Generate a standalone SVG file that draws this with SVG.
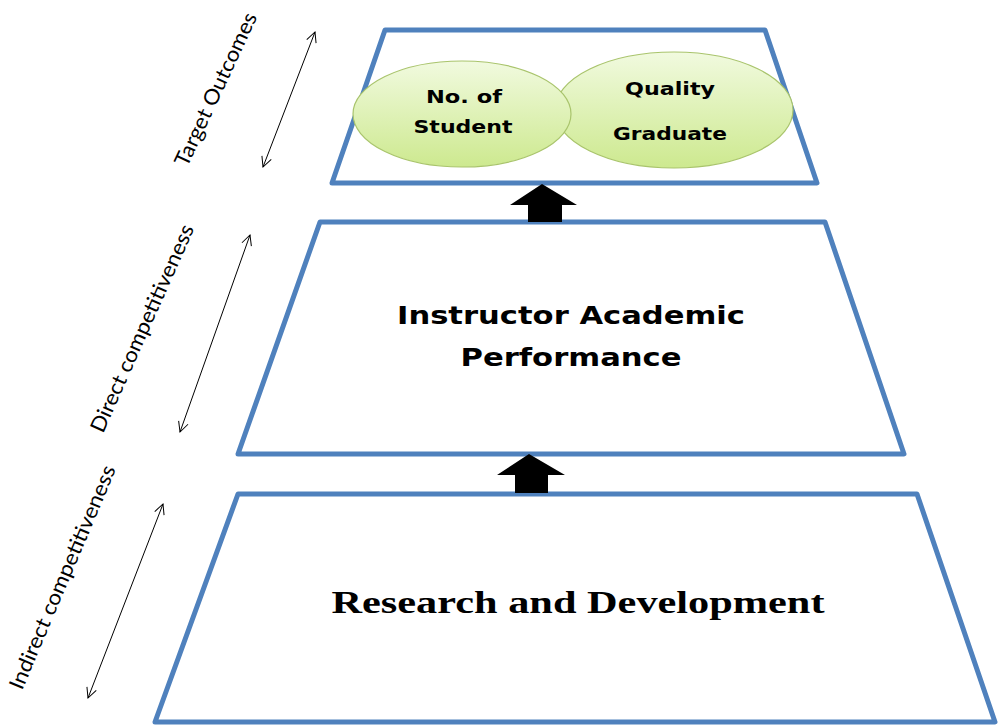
<svg xmlns="http://www.w3.org/2000/svg" width="999" height="726" viewBox="0 0 999 726">
<defs>
<linearGradient id="g" x1="0" y1="0" x2="0" y2="1">
<stop offset="0" stop-color="#f1fadf"/>
<stop offset="1" stop-color="#cde98f"/>
</linearGradient>
<marker id="ah" viewBox="0 0 12 12" refX="11" refY="6" markerWidth="12" markerHeight="12" markerUnits="userSpaceOnUse" orient="auto-start-reverse">
<path d="M1,1 L11,6 L1,11" fill="none" stroke="#000" stroke-width="1"/>
</marker>
</defs>
<style>
.trap{fill:#fff;stroke:#4f81bd;stroke-width:5;stroke-linejoin:round}
.ell{fill:url(#g);stroke:#a9c46c;stroke-width:1.2}
.el{font-family:"DejaVu Sans",Verdana,sans-serif;font-weight:bold;font-size:17px;fill:#000;text-anchor:middle}
.mid{font-family:"DejaVu Sans",Verdana,sans-serif;font-weight:bold;font-size:25px;fill:#000;text-anchor:middle}
.rd{font-family:"Liberation Serif","Times New Roman",serif;font-weight:bold;font-size:31px;fill:#000;text-anchor:middle}
.side{font-family:Lato,"Open Sans",sans-serif;font-size:21px;fill:#000}
.dbl{stroke:#000;stroke-width:1;fill:none;marker-start:url(#ah);marker-end:url(#ah)}
.blk{fill:#000}
</style>
<rect width="999" height="726" fill="#fff"/>
<g id="bottom-layer">
<polygon class="trap" points="238,494 917,494 995,722 155,722"/>
<text class="rd" x="578" y="613" textLength="493" lengthAdjust="spacingAndGlyphs">Research and Development</text>
</g>
<g id="middle-layer">
<polygon class="trap" points="320,222 825,222 904,454 238,454"/>
<text class="mid" x="571" y="324" textLength="348" lengthAdjust="spacingAndGlyphs">Instructor Academic</text>
<text class="mid" x="571" y="366" textLength="221" lengthAdjust="spacingAndGlyphs">Performance</text>
</g>
<g id="top-layer">
<polygon class="trap" points="385,30 765,30 817,183 332,183"/>
</g>
<g id="quality-graduate">
<ellipse class="ell" cx="674" cy="110" rx="119" ry="58"/>
<text class="el" x="670" y="95" textLength="90" lengthAdjust="spacingAndGlyphs">Quality</text>
<text class="el" x="670" y="140" textLength="114" lengthAdjust="spacingAndGlyphs">Graduate</text>
</g>
<g id="no-of-student">
<ellipse class="ell" cx="462" cy="114" rx="109" ry="53"/>
<text class="el" x="464" y="103" textLength="76" lengthAdjust="spacingAndGlyphs">No. of</text>
<text class="el" x="463" y="133" textLength="99" lengthAdjust="spacingAndGlyphs">Student</text>
</g>
<g id="connectors">
<polygon class="blk" points="542,184 577,205 562,205 562,222 528,222 528,205 510,205"/>
<polygon class="blk" points="529,454 565,475 548,475 548,493 515,493 515,475 497,475"/>
<line class="dbl" x1="263" y1="167" x2="315" y2="32"/>
<line class="dbl" x1="180" y1="432" x2="250" y2="235"/>
<line class="dbl" x1="88" y1="698" x2="163" y2="504"/>
</g>
<g id="side-labels">
<text class="side" transform="translate(187,168) rotate(-65)" textLength="167" lengthAdjust="spacingAndGlyphs">Target Outcomes</text>
<text class="side" transform="translate(103,434) rotate(-66)" textLength="225" lengthAdjust="spacingAndGlyphs">Direct competitiveness</text>
<text class="side" transform="translate(22,691) rotate(-67)" textLength="241" lengthAdjust="spacingAndGlyphs">Indirect competitiveness</text>
</g>
</svg>
